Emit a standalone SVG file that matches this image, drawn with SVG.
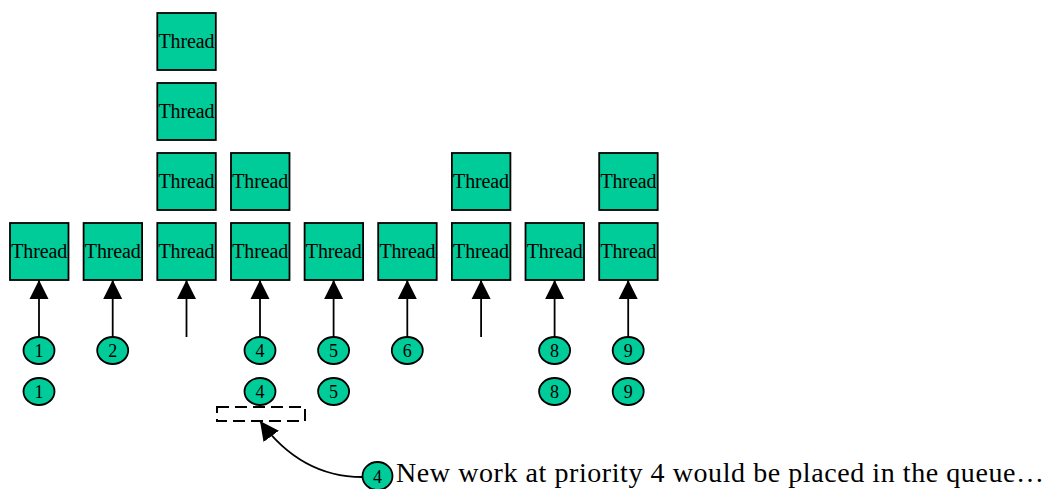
<svg xmlns="http://www.w3.org/2000/svg" width="1046" height="489" viewBox="0 0 1046 489">
<style>
.t rect{fill:#00cc99;stroke:#000;stroke-width:1.8}
.c ellipse{fill:#00cc99;stroke:#000;stroke-width:1.8}
text{font-family:"Liberation Serif","Times New Roman",serif;fill:#000}
.tl{font-size:20px;text-anchor:middle}
.cl{font-size:18px;text-anchor:middle}
.e{stroke:#000;stroke-width:1.8;fill:none}
</style>
<defs>
<marker id="ah" markerUnits="userSpaceOnUse" markerWidth="20" markerHeight="20" viewBox="0 0 20 20" refX="19" refY="10" orient="auto">
<polygon points="0,0.5 19,10 0,19.5" fill="#000"/>
</marker>
</defs>
<g id="threads">
<g id="t0" class="t"><rect x="10" y="223" width="58.5" height="57"/><text class="tl" x="39.2" y="258" textLength="56">Thread</text></g>
<g id="t1" class="t"><rect x="83.6" y="223" width="58.5" height="57"/><text class="tl" x="112.8" y="258" textLength="56">Thread</text></g>
<g id="t2a" class="t"><rect x="157.3" y="13" width="58.5" height="57"/><text class="tl" x="186.5" y="48" textLength="56">Thread</text></g>
<g id="t2b" class="t"><rect x="157.3" y="83" width="58.5" height="57"/><text class="tl" x="186.5" y="118" textLength="56">Thread</text></g>
<g id="t2c" class="t"><rect x="157.3" y="153" width="58.5" height="57"/><text class="tl" x="186.5" y="188" textLength="56">Thread</text></g>
<g id="t2" class="t"><rect x="157.3" y="223" width="58.5" height="57"/><text class="tl" x="186.5" y="258" textLength="56">Thread</text></g>
<g id="t3a" class="t"><rect x="231" y="153" width="58.5" height="57"/><text class="tl" x="260.2" y="188" textLength="56">Thread</text></g>
<g id="t3" class="t"><rect x="231" y="223" width="58.5" height="57"/><text class="tl" x="260.2" y="258" textLength="56">Thread</text></g>
<g id="t4" class="t"><rect x="304.6" y="223" width="58.5" height="57"/><text class="tl" x="333.8" y="258" textLength="56">Thread</text></g>
<g id="t5" class="t"><rect x="378.2" y="223" width="58.5" height="57"/><text class="tl" x="407.4" y="258" textLength="56">Thread</text></g>
<g id="t6a" class="t"><rect x="451.9" y="153" width="58.5" height="57"/><text class="tl" x="481.1" y="188" textLength="56">Thread</text></g>
<g id="t6" class="t"><rect x="451.9" y="223" width="58.5" height="57"/><text class="tl" x="481.1" y="258" textLength="56">Thread</text></g>
<g id="t7" class="t"><rect x="525.5" y="223" width="58.5" height="57"/><text class="tl" x="554.7" y="258" textLength="56">Thread</text></g>
<g id="t8a" class="t"><rect x="599.2" y="153" width="58.5" height="57"/><text class="tl" x="628.4" y="188" textLength="56">Thread</text></g>
<g id="t8" class="t"><rect x="599.2" y="223" width="58.5" height="57"/><text class="tl" x="628.4" y="258" textLength="56">Thread</text></g>
</g>
<g id="work">
<g id="w1" class="c"><ellipse cx="39" cy="350.5" rx="15.5" ry="13.5"/><text class="cl" x="39" y="357">1</text></g>
<g id="w2" class="c"><ellipse cx="112.7" cy="350.5" rx="15.5" ry="13.5"/><text class="cl" x="112.7" y="357">2</text></g>
<g id="w4" class="c"><ellipse cx="260" cy="350.5" rx="15.5" ry="13.5"/><text class="cl" x="260" y="357">4</text></g>
<g id="w5" class="c"><ellipse cx="333.6" cy="350.5" rx="15.5" ry="13.5"/><text class="cl" x="333.6" y="357">5</text></g>
<g id="w6" class="c"><ellipse cx="407.3" cy="350.5" rx="15.5" ry="13.5"/><text class="cl" x="407.3" y="357">6</text></g>
<g id="w8" class="c"><ellipse cx="554.6" cy="350.5" rx="15.5" ry="13.5"/><text class="cl" x="554.6" y="357">8</text></g>
<g id="w9" class="c"><ellipse cx="628.2" cy="350.5" rx="15.5" ry="13.5"/><text class="cl" x="628.2" y="357">9</text></g>
<g id="q1" class="c"><ellipse cx="39" cy="391.5" rx="15.5" ry="13.5"/><text class="cl" x="39" y="398">1</text></g>
<g id="q4" class="c"><ellipse cx="260" cy="391.5" rx="15.5" ry="13.5"/><text class="cl" x="260" y="398">4</text></g>
<g id="q5" class="c"><ellipse cx="333.6" cy="391.5" rx="15.5" ry="13.5"/><text class="cl" x="333.6" y="398">5</text></g>
<g id="q8" class="c"><ellipse cx="554.6" cy="391.5" rx="15.5" ry="13.5"/><text class="cl" x="554.6" y="398">8</text></g>
<g id="q9" class="c"><ellipse cx="628.2" cy="391.5" rx="15.5" ry="13.5"/><text class="cl" x="628.2" y="398">9</text></g>
<g id="slot"><rect x="217" y="407" width="88" height="14" fill="none" stroke="#000" stroke-width="2" stroke-dasharray="12,6"/></g>
<g id="nw" class="c"><ellipse cx="377.5" cy="476" rx="15" ry="14"/><text class="cl" x="377.5" y="483">4</text></g>
<g id="label"><text x="396" y="482" font-size="28" textLength="648" lengthAdjust="spacing">New work at priority 4 would be placed in the queue…</text></g>
</g>
<g id="connectors">
<path class="e" marker-end="url(#ah)" d="M39,337 V280"/>
<path class="e" marker-end="url(#ah)" d="M112.7,337 V280"/>
<path class="e" marker-end="url(#ah)" d="M186.5,337 V280"/>
<path class="e" marker-end="url(#ah)" d="M260,337 V280"/>
<path class="e" marker-end="url(#ah)" d="M333.6,337 V280"/>
<path class="e" marker-end="url(#ah)" d="M407.3,337 V280"/>
<path class="e" marker-end="url(#ah)" d="M481.1,337 V280"/>
<path class="e" marker-end="url(#ah)" d="M554.6,337 V280"/>
<path class="e" marker-end="url(#ah)" d="M628.2,337 V280"/>
<path class="e" marker-end="url(#ah)" d="M362,477 C325,477 290,462 260,421"/>
</g>
</svg>
